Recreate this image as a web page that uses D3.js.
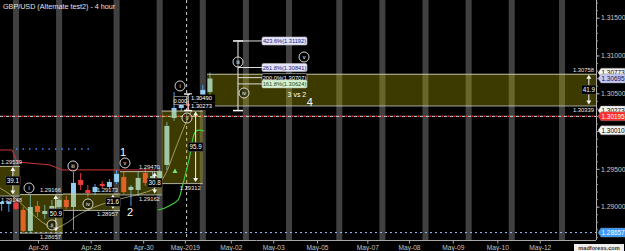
<!DOCTYPE html>
<html><head><meta charset="utf-8">
<script src="https://cdn.jsdelivr.net/npm/d3@7"></script>
<style>html,body{margin:0;padding:0;background:#000;overflow:hidden}svg{display:block}text{font-family:"Liberation Sans",Arial,sans-serif}</style>
</head><body><svg id="c" width="625" height="251"></svg>
<script>
// ---------------- data ----------------
const title = "GBP/USD (Alternate test2) - 4 hour";
const barIdx = [-2,-1,0,1,2,3,4,5,6,7,8,9,10,11,12,13,14,15,16,17,18,19,20,21,22,23,24,25,26,27];
const open  = [1.29036,1.29036,1.29049,1.28956,1.28679,1.29009,1.28903,1.28930,1.28996,1.29089,1.28996,1.29353,1.29221,1.29194,1.29300,1.29261,1.29327,1.29393,1.29221,1.29221,1.29446,1.29366,1.29380,1.29552,1.30173,1.30306,1.30358,1.30345,1.30451,1.30517];
const high  = [1.29075,1.29075,1.29075,1.28996,1.29155,1.29075,1.29022,1.29089,1.29142,1.29142,1.29459,1.29446,1.29287,1.29300,1.29340,1.29366,1.29486,1.29459,1.29287,1.29459,1.29512,1.29459,1.29512,1.30120,1.30517,1.30411,1.30398,1.30478,1.30610,1.30773];
const low   = [1.28943,1.28930,1.28956,1.28665,1.28657,1.28864,1.28837,1.28890,1.28956,1.28970,1.28690,1.29221,1.29128,1.29155,1.29234,1.29234,1.29300,1.29168,1.29009,1.29142,1.29274,1.29327,1.29327,1.29486,1.30134,1.30266,1.30279,1.30306,1.30425,1.30478];
const close = [1.29062,1.29062,1.28970,1.28679,1.28996,1.28930,1.28943,1.29009,1.29089,1.28996,1.29314,1.29287,1.29181,1.29261,1.29274,1.29327,1.29433,1.29194,1.29261,1.29380,1.29314,1.29406,1.29459,1.30068,1.30306,1.30345,1.30332,1.30451,1.30544,1.30695];

const dayBandBars = [0,6,14,20,26,32,38,45,51,57,63,69,76];
const xTickBars   = [3.06,10.4,17.7,23.5,29.9,35.8,41.9,48.9,54.7,60.8,67.0,72.9];
const xTickLabels = ["Apr-26","Apr-28","Apr-30","May-2019","May-02","May-03","May-05","May-07","May-08","May-09","May-10","May-12"];
const yTickValues = [1.315,1.310,1.305,1.300,1.295,1.290];

const boxStart = [-2.4,0.56,6.54,14.48,20.3,26.6];
const boxEnd   = [0.56,6.54,14.48,20.3,26.0,80.73];
const boxLow   = [1.29148,1.28657,1.28957,1.29162,1.29312,1.30339];
const boxHigh  = [1.29539,1.29166,1.29173,1.29470,1.30271,1.30758];
const boxPips  = ["39.1","50.9","21.6","30.8","95.9","41.9"];

const fibPct   = ["423.6%","261.8%","200.0%","161.8%"];
const fibPrice = [1.31192,1.30841,1.30707,1.30624];
const fibBar = 30.9;

const waveText  = ["i","ii","iii","iv","v","i","ii","iii","iv","v"];
const waveBar   = [1.81,5.01,7.93,10.02,15.17,22.83,23.8,30.9,31.74,40.09];
const wavePrice = [1.29247,1.28758,1.29538,1.29036,1.29578,1.30597,1.30173,1.30914,1.30504,1.30980];

const bigText  = ["1","2","4","3 vs 2"];
const bigBar   = [14.9,15.87,40.9,39.1];
const bigPrice = [1.29724,1.28930,1.30385,1.30504];

const redLineBar   = [-2.23,-0.56,0.14,4.73,6.40,19.35];
const redLinePrice = [1.29750,1.29750,1.29591,1.29552,1.29486,1.29486];
const greenLineBar   = [19.77,20.74,22.55,23.1,24.08,25.06,26.17];
const greenLinePrice = [1.28956,1.28983,1.29089,1.29248,1.29618,1.30001,1.30001];
const curveBar   = [-2.23,-0.14,1.95,4.04,5.43,6.82,8.91,11.69,14.48,17.26,19.35,20.74,22.13,23.52,24.50];
const curvePrice = [1.29247,1.29115,1.28930,1.28771,1.28718,1.28771,1.28903,1.29022,1.29102,1.29168,1.29247,1.29419,1.29750,1.30081,1.30279];

const levelRed = 1.30195, levelLow = 1.28657, levelBlueDots = 1.29763;
const blueDotsFrom = 0, blueDotsTo = 10.3;
const vLineBar = 23.75;
const miniArrowBar = 23.95, miniHigh = 1.30490, miniLow = 1.30273;
const markerBar = [22.13], markerPrice = [1.29472];

const tagPrice = [1.30773,1.30695,1.30273,1.30195,1.30010,1.28657];
const tagKind  = ["white","lavender","white","red","white","blue"];
const watermark = "madforexs.com";

// ---------------- chart ----------------
const plotR = 596, plotB = 240;
const svg = d3.select("#c");
svg.append("rect").attr("width",625).attr("height",251).attr("fill","#000");
const x = d3.scaleLinear().domain([-2.227, 80.73]).range([0, plotR]);
const y = d3.scaleLinear().domain([1.28559, 1.31734]).range([plotB, 0]);
const bw = x(1) - x(0);
const fmt = d3.format(".5f");

const clip = svg.append("defs").append("clipPath").attr("id","pc");
clip.append("rect").attr("x",0).attr("y",0).attr("width",plotR).attr("height",plotB);
const g = svg.append("g").attr("clip-path","url(#pc)");

// day bands
g.selectAll(".band").data(dayBandBars).join("rect")
  .attr("x", d => x(d) - bw*0.42).attr("width", bw*0.84)
  .attr("y", 0).attr("height", plotB).attr("fill", "#404040");

// red/white level line
g.append("line").attr("x1",0).attr("x2",plotR).attr("y1",y(levelRed)).attr("y2",y(levelRed))
  .attr("stroke","#ddd").attr("stroke-dasharray","3,3");
g.append("line").attr("x1",0).attr("x2",plotR).attr("y1",y(levelRed)).attr("y2",y(levelRed))
  .attr("stroke","#ff3030").attr("stroke-width",1.5).attr("stroke-dasharray","2,4").attr("stroke-dashoffset",-3.5);
// low level line
g.append("line").attr("x1",0).attr("x2",plotR).attr("y1",y(levelLow)).attr("y2",y(levelLow))
  .attr("stroke","#9cc0ff").attr("stroke-dasharray","2,3");
// blue dots
g.append("line").attr("x1",x(blueDotsFrom)).attr("x2",x(blueDotsTo)).attr("y1",y(levelBlueDots)).attr("y2",y(levelBlueDots))
  .attr("stroke","#3d8bff").attr("stroke-width",1.5).attr("stroke-dasharray","1.5,5");
// vertical dashed
g.append("line").attr("x1",x(vLineBar)).attr("x2",x(vLineBar)).attr("y1",0).attr("y2",plotB)
  .attr("stroke","#cfcfcf").attr("stroke-dasharray","3,3");

// candles
const candles = barIdx.map((b,i)=>({b,o:open[i],h:high[i],l:low[i],c:close[i]}));
const cg = g.selectAll(".cd").data(candles).join("g");
cg.append("line").attr("x1",d=>x(d.b)).attr("x2",d=>x(d.b)).attr("y1",d=>y(d.h)).attr("y2",d=>y(d.l))
  .attr("stroke",d=>d.c>=d.o?"#4d9fe6":"#e83c3c");
cg.append("rect").attr("x",d=>x(d.b)-2.5).attr("width",5)
  .attr("y",d=>y(Math.max(d.o,d.c))).attr("height",d=>Math.max(1.5,Math.abs(y(d.o)-y(d.c))))
  .attr("fill",d=>d.c>=d.o?"#93cdf2":"#ee3b3b");

// boxes (translucent overlay)
const boxes = boxStart.map((s,i)=>({s,e:boxEnd[i],lo:boxLow[i],hi:boxHigh[i],pips:boxPips[i],i}));
g.selectAll(".bx").data(boxes).join("rect")
  .attr("x",d=>x(d.s)).attr("width",d=>x(d.e)-x(d.s))
  .attr("y",d=>y(d.hi)).attr("height",d=>y(d.lo)-y(d.hi))
  .attr("fill","rgba(196,186,0,0.31)");
boxes.forEach(d=>{
  [d.hi,d.lo].forEach(p=>{
    g.append("line").attr("x1",x(d.s)).attr("x2",x(d.e)).attr("y1",y(p)+0.5).attr("y2",y(p)+0.5)
      .attr("stroke","#d0d0c0").attr("stroke-opacity",0.85);
  });
});

// lines
const lineGen = d3.line().x(d=>x(d[0])).y(d=>y(d[1]));
const curveGen = d3.line().x(d=>x(d[0])).y(d=>y(d[1])).curve(d3.curveCatmullRom);
g.append("path").attr("d",curveGen(curveBar.map((b,i)=>[b,curvePrice[i]])))
  .attr("fill","none").attr("stroke","#e2e2a8").attr("stroke-width",0.8).attr("stroke-opacity",0.75);
g.append("path").attr("d",lineGen(redLineBar.map((b,i)=>[b,redLinePrice[i]])))
  .attr("fill","none").attr("stroke","#d03535").attr("stroke-width",1);
g.append("path").attr("d",curveGen(greenLineBar.map((b,i)=>[b,greenLinePrice[i]])))
  .attr("fill","none").attr("stroke","#42d042").attr("stroke-width",1.1);

// markers
markerBar.forEach((b,i)=>{
  const X=x(b),Y=y(markerPrice[i]);
  g.append("path").attr("d",`M${X},${Y-2.5}L${X-2.5},${Y+2}L${X+2.5},${Y+2}Z`).attr("fill","#7be07b");
});

// box arrows and labels
function vArrow(X, yTop, yBot, col){
  g.append("line").attr("x1",X).attr("x2",X).attr("y1",yTop+2).attr("y2",yBot-2).attr("stroke",col);
  g.append("path").attr("d",`M${X},${yTop}L${X-2.5},${yTop+4}L${X+2.5},${yTop+4}Z`).attr("fill",col);
  g.append("path").attr("d",`M${X},${yBot}L${X-2.5},${yBot-4}L${X+2.5},${yBot-4}Z`).attr("fill",col);
}
const LABEL_W = 21;
function boxLabel(d, p, yy){
  const right = x(d.e) - 2;
  const t = g.append("text").attr("y",yy).attr("font-size",5.8).attr("fill","#e6e6e6").text(fmt(p));
  if (right < LABEL_W + 1) t.attr("x",1).attr("text-anchor","start");
  else t.attr("x",right).attr("text-anchor","end");
}
boxes.forEach(d=>{
  const ax = x(d.e) - bw*1.0;
  const yt = y(d.hi)+1, yb = y(d.lo)-1;
  vArrow(ax, yt, yb, "#f4f4f4");
  const ym = (yt+yb)/2;
  g.append("rect").attr("x",ax-7.5).attr("y",ym-4.5).attr("width",15).attr("height",9).attr("fill","#000").attr("stroke","#555").attr("stroke-width",0.5);
  g.append("text").attr("x",ax).attr("y",ym+2.2).attr("text-anchor","middle").attr("font-size",6.3).attr("fill","#fff").text(d.pips);
  if (Math.abs(d.hi - miniLow) > 0.0001) boxLabel(d, d.hi, y(d.hi)-2);
  boxLabel(d, d.lo, y(d.lo)+6.5);
});

// mini arrow near wave (i)
(function(){
  const X = x(miniArrowBar), y1=y(miniHigh), y2=y(miniLow);
  g.append("line").attr("x1",X).attr("x2",X).attr("y1",y1).attr("y2",y2).attr("stroke","#fff");
  [y1,y2].forEach(yy=>g.append("line").attr("x1",X-4).attr("x2",X+4).attr("y1",yy).attr("y2",yy).attr("stroke","#fff").attr("stroke-width",1.4));
  g.append("rect").attr("x",X+2).attr("y",y1+0.5).attr("width",25).attr("height",7.5).attr("fill","#000");
  g.append("text").attr("x",X+3).attr("y",y1+6).attr("font-size",5.8).attr("fill","#fff").text(fmt(miniHigh));
  g.append("rect").attr("x",X+2).attr("y",y2-8).attr("width",25).attr("height",7.5).attr("fill","#000");
  g.append("text").attr("x",X+3).attr("y",y2-2.2).attr("font-size",5.8).attr("fill","#fff").text(fmt(miniLow));
  g.append("rect").attr("x",X-14).attr("y",(y1+y2)/2-5.5).attr("width",12.5).attr("height",8).attr("fill","#000").attr("stroke","#ccc").attr("stroke-width",0.6);
  g.append("text").attr("x",X-7.75).attr("y",(y1+y2)/2+0.6).attr("text-anchor","middle").attr("font-size",5.3).attr("fill","#fff").text("0.000");
})();

// fib projection
(function(){
  const X = x(fibBar);
  const yTop = y(fibPrice[0]), yBot = y(boxHigh[4]);
  g.append("line").attr("x1",X).attr("x2",X).attr("y1",yTop).attr("y2",yBot).attr("stroke","#eee");
  [yTop,yBot].forEach(yy=>g.append("line").attr("x1",X-5).attr("x2",X+5).attr("y1",yy).attr("y2",yy).attr("stroke","#fff").attr("stroke-width",1.5));
  const bg = ["#e4e4ff","#e4e4ff","#000","#d6f5cf"], fg = ["#202070","#202070","#fff","#1d3d1d"];
  fibPrice.forEach((p,i)=>{
    const yy = y(p);
    g.append("line").attr("x1",X).attr("x2",X+24).attr("y1",yy).attr("y2",yy).attr("stroke","#ddd");
    g.append("rect").attr("x",X+24).attr("y",yy-4).attr("width",45).attr("height",8).attr("rx",1.5)
      .attr("fill",bg[i]).attr("stroke","#bbb").attr("stroke-width",0.6);
    g.append("text").attr("x",X+46.5).attr("y",yy+2.2).attr("text-anchor","middle").attr("font-size",5.7)
      .attr("fill",fg[i]).text(`${fibPct[i]}(${fmt(p)})`);
  });
})();

// wave circles
waveText.forEach((t,i)=>{
  const X=x(waveBar[i]), Y=y(wavePrice[i]);
  g.append("circle").attr("cx",X).attr("cy",Y).attr("r",5).attr("fill","#000").attr("fill-opacity",0.4).attr("stroke","#e8e8e8").attr("stroke-width",0.9);
  g.append("text").attr("x",X).attr("y",Y+2).attr("text-anchor","middle").attr("font-size",5.5)
    .attr("font-family","'Liberation Serif',serif").attr("fill","#fff").text(t);
});
// big labels
bigText.forEach((t,i)=>{
  g.append("text").attr("x",x(bigBar[i])).attr("y",y(bigPrice[i])+4).attr("text-anchor","middle")
    .attr("font-size", t.length>1?7:11).attr("fill","#ffffff").text(t);
});

// ---------------- axes ----------------
svg.append("line").attr("x1",plotR+0.5).attr("x2",plotR+0.5).attr("y1",0).attr("y2",plotB).attr("stroke","#b0b0b0");
svg.append("line").attr("x1",0).attr("x2",plotR).attr("y1",plotB+0.5).attr("y2",plotB+0.5).attr("stroke","#a8a8a8");
const yAxis = d3.axisRight(y).tickValues(yTickValues).tickSize(3).tickFormat(d3.format(".5f"));
const ya = svg.append("g").attr("transform",`translate(${plotR+0.5},0)`).call(yAxis);
ya.select(".domain").remove();
ya.selectAll("line").attr("stroke","#b0b0b0");
ya.selectAll("text").attr("fill","#c8c8c8").attr("font-size",6.8).attr("x",4.5);
// minor ticks
const minor = svg.append("g").attr("transform",`translate(${plotR+0.5},0)`).call(
  d3.axisRight(y).ticks(30).tickSize(1.5).tickFormat(""));
minor.select(".domain").remove(); minor.selectAll("line").attr("stroke","#999");

const xAxis = d3.axisBottom(x).tickValues(xTickBars).tickSize(3).tickFormat((d,i)=>xTickLabels[i]);
const xa = svg.append("g").attr("transform",`translate(0,${plotB+0.5})`).call(xAxis);
xa.select(".domain").remove();
xa.selectAll("line").attr("stroke","#a8a8a8");
xa.selectAll("text").attr("fill","#c4c4c4").attr("font-size",6.6).attr("dy",0).attr("y",9.3);

// right price tags
const tagBg = {white:"#f4f4f4",lavender:"#c6c6f4",red:"#ff2e2e",blue:"#3c9cff"};
const tagFg = {white:"#000",lavender:"#101040",red:"#fff",blue:"#fff"};
tagPrice.forEach((p,i)=>{
  const Y=y(p), k=tagKind[i];
  svg.append("path").attr("d",`M${plotR+2},${Y}L${plotR+5},${Y-4.5}L625,${Y-4.5}L625,${Y+4.5}L${plotR+5},${Y+4.5}Z`)
    .attr("fill",tagBg[k]).attr("stroke","#888").attr("stroke-width",0.4);
  svg.append("text").attr("x",plotR+5.5).attr("y",Y+2.3).attr("font-size",6.4).attr("fill",tagFg[k]).text(fmt(p));
});

// title
svg.append("text").attr("x",3).attr("y",9).attr("font-size",7.2).attr("fill","#e4e4e4").text(title);
// watermark
svg.append("rect").attr("x",574).attr("y",244).attr("width",50).attr("height",7).attr("fill","#eee");
svg.append("text").attr("x",599).attr("y",249.8).attr("text-anchor","middle").attr("font-size",5.6).attr("font-weight","bold").attr("fill","#333").text(watermark);
</script></body></html>
